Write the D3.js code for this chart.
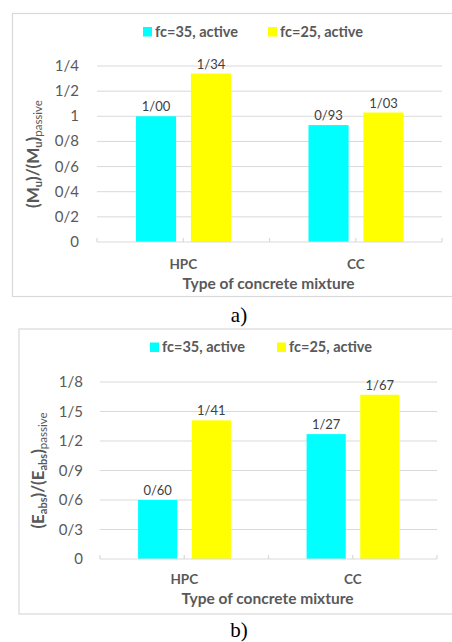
<!DOCTYPE html>
<html>
<head>
<meta charset="utf-8">
<script src="https://cdn.jsdelivr.net/npm/d3@7"></script>
<style>
  body { margin: 0; background: #fff; }
</style>
</head>
<body>
<div id="chart"></div>
<script>
// data
var categories = ["HPC", "CC"];
var seriesNames = ["fc=35, active", "fc=25, active"];
var seriesColors = ["#00FFFF", "#FFFF00"];

var momentFc35 = [1.00, 0.93];
var momentFc25 = [1.34, 1.03];
var momentTicks = [0, 0.2, 0.4, 0.6, 0.8, 1.0, 1.2, 1.4];
var momentTickLabels = ["0", "0/2", "0/4", "0/6", "0/8", "1", "1/2", "1/4"];

var energyFc35 = [0.60, 1.27];
var energyFc25 = [1.41, 1.67];
var energyTicks = [0, 0.3, 0.6, 0.9, 1.2, 1.5, 1.8];
var energyTickLabels = ["0", "0/3", "0/6", "0/9", "1/2", "1/5", "1/8"];

var W = 452, H = 642;
var SANS = "Lato, 'Open Sans', sans-serif";
var svg = d3.select("#chart").append("svg")
  .attr("width", W).attr("height", H)
  .attr("font-family", SANS);
svg.append("rect").attr("width", W).attr("height", H).attr("fill", "#fff");

function valueLabel(v) {
  return d3.format(".2f")(v).replace(".", "/");
}

function drawChart(cfg) {
  var g = svg.append("g");

  // frame (runs off the right edge in the source)
  g.append("rect")
    .attr("x", cfg.frame[0]).attr("y", cfg.frame[1])
    .attr("width", 480).attr("height", cfg.frame[2] - cfg.frame[1])
    .attr("fill", "none").attr("stroke", "#d9d9d9").attr("stroke-width", 1.2);

  var y = d3.scaleLinear().domain([0, cfg.ticks[cfg.ticks.length - 1]])
    .range([cfg.bottom, cfg.top]);
  var x0 = d3.scaleBand().domain(categories).range([cfg.left, cfg.right]);
  var bw = x0.bandwidth();
  var x1 = d3.scaleBand().domain(seriesNames)
    .range([bw * 0.226, bw * 0.777]).paddingInner(0.27);

  // gridlines
  g.selectAll(".grid").data(cfg.ticks.slice(1)).enter().append("line")
    .attr("x1", cfg.left).attr("x2", cfg.right)
    .attr("y1", function(d) { return y(d); })
    .attr("y2", function(d) { return y(d); })
    .attr("stroke", "#d9d9d9").attr("stroke-width", 1);

  // y tick labels
  g.selectAll(".ytl").data(cfg.ticks).enter().append("text")
    .attr("x", cfg.labelX)
    .attr("y", function(d) { return y(d) + 5; })
    .attr("text-anchor", "end")
    .attr("font-size", 15)
    .attr("fill", "#595959")
    .text(function(d, i) { return cfg.tickLabels[i]; });

  // bars
  var rows = categories.map(function(c, i) {
    return { cat: c, vals: [cfg.s1[i], cfg.s2[i]] };
  });
  var grp = g.selectAll(".grp").data(rows).enter().append("g")
    .attr("transform", function(d) { return "translate(" + x0(d.cat) + ",0)"; });
  grp.selectAll("rect").data(function(d) { return d.vals; }).enter().append("rect")
    .attr("x", function(d, i) { return x1(seriesNames[i]); })
    .attr("width", x1.bandwidth())
    .attr("y", function(d) { return y(d); })
    .attr("height", function(d) { return cfg.bottom - y(d); })
    .attr("fill", function(d, i) { return seriesColors[i]; });
  grp.selectAll("text").data(function(d) { return d.vals; }).enter().append("text")
    .attr("x", function(d, i) { return x1(seriesNames[i]) + x1.bandwidth() / 2; })
    .attr("y", function(d) { return y(d) - 5; })
    .attr("text-anchor", "middle")
    .attr("font-size", 13)
    .attr("fill", "#404040")
    .text(function(d) { return valueLabel(d); });

  // x axis line and inside ticks
  g.append("line")
    .attr("x1", cfg.left).attr("x2", cfg.right)
    .attr("y1", cfg.bottom).attr("y2", cfg.bottom)
    .attr("stroke", "#d9d9d9").attr("stroke-width", 1.2);
  var tickXs = [cfg.left];
  categories.forEach(function(c) {
    tickXs.push(x0(c) + bw / 2);
    tickXs.push(x0(c) + bw);
  });
  g.selectAll(".xt").data(tickXs).enter().append("line")
    .attr("x1", function(d) { return d; }).attr("x2", function(d) { return d; })
    .attr("y1", cfg.bottom).attr("y2", cfg.bottom - 4)
    .attr("stroke", "#d9d9d9").attr("stroke-width", 1.2);

  // category labels
  g.selectAll(".xl").data(categories).enter().append("text")
    .attr("x", function(d) { return x0(d) + bw / 2; })
    .attr("y", cfg.catY)
    .attr("text-anchor", "middle")
    .attr("font-size", 13.5).attr("font-weight", "bold")
    .attr("fill", "#595959")
    .text(function(d) { return d; });

  // axis title
  g.append("text")
    .attr("x", (cfg.left + cfg.right) / 2 - 1)
    .attr("y", cfg.titleY)
    .attr("text-anchor", "middle")
    .attr("font-size", 15.5).attr("font-weight", "bold")
    .attr("fill", "#595959")
    .text("Type of concrete mixture");

  // y axis title with subscripts
  var yt = g.append("text")
    .attr("transform", "translate(" + cfg.yTitleX + "," + ((cfg.top + cfg.bottom) / 2) + ") rotate(-90)")
    .attr("text-anchor", "middle")
    .attr("font-size", 17).attr("font-weight", "bold")
    .attr("fill", "#595959");
  yt.append("tspan").text("(" + cfg.sym);
  yt.append("tspan").attr("font-size", 11).attr("dy", 3).text(cfg.sub);
  yt.append("tspan").attr("dy", -3).text(")/(" + cfg.sym);
  yt.append("tspan").attr("font-size", 11).attr("dy", 3).text(cfg.sub);
  yt.append("tspan").attr("dy", -3).text(")");
  yt.append("tspan").attr("font-size", 11.5).attr("font-weight", "normal").attr("dy", 3).text("passive");

  // legend
  var lg = g.selectAll(".lg").data(seriesNames).enter().append("g")
    .attr("transform", function(d, i) {
      return "translate(" + cfg.legendX[i] + "," + cfg.legendY + ")";
    });
  lg.append("rect")
    .attr("x", 0).attr("y", -9.5).attr("width", 9).attr("height", 9.5)
    .attr("fill", function(d, i) { return seriesColors[i]; });
  lg.append("text")
    .attr("x", 12).attr("y", 0)
    .attr("font-size", 14.5).attr("font-weight", "bold")
    .attr("fill", "#595959")
    .text(function(d) { return d; });

  // panel caption
  svg.append("text")
    .attr("x", 239).attr("y", cfg.captionY)
    .attr("text-anchor", "middle")
    .attr("font-family", "'Liberation Serif', 'DejaVu Serif', serif")
    .attr("font-size", 21)
    .attr("fill", "#000")
    .text(cfg.caption);
}

drawChart({
  frame: [12.5, 13.5, 296.5],
  top: 66, bottom: 242, left: 97, right: 442,
  ticks: momentTicks, tickLabels: momentTickLabels,
  s1: momentFc35, s2: momentFc25,
  labelX: 79, catY: 269, titleY: 289,
  yTitleX: 39, sym: "M", sub: "u",
  legendX: [143, 268], legendY: 36.5,
  caption: "a)", captionY: 322
});

drawChart({
  frame: [19, 329, 614],
  top: 382, bottom: 559, left: 100, right: 437,
  ticks: energyTicks, tickLabels: energyTickLabels,
  s1: energyFc35, s2: energyFc25,
  labelX: 83, catY: 584, titleY: 604,
  yTitleX: 44, sym: "E", sub: "abs",
  legendX: [150, 277], legendY: 352,
  caption: "b)", captionY: 637
});
</script>
</body>
</html>
